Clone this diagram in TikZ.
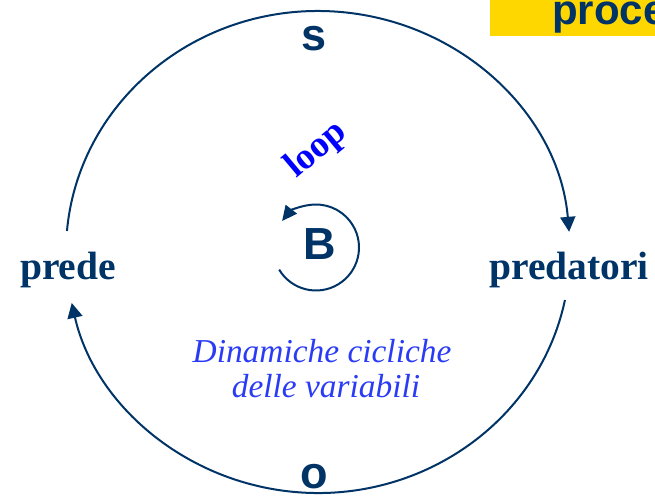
\documentclass[tikz,border=0pt]{standalone}
\usepackage{fontspec}
\setmainfont{Liberation Serif}
\newfontfamily\hv{Liberation Sans}
\usetikzlibrary{arrows.meta}
\definecolor{navy}{HTML}{003366}
\definecolor{gold}{HTML}{FFD700}
\definecolor{loopblue}{HTML}{0000FF}
\definecolor{dynblue}{HTML}{2A3BF5}
\begin{document}
\begin{tikzpicture}[x=1pt,y=1pt,
  conn/.style={draw=navy, line width=2pt, -{Triangle[length=15pt,width=15pt]}},
  lbl/.style={text=navy, font=\fontsize{39.5}{42}\selectfont\bfseries, inner sep=0pt, anchor=base},
  sym/.style={text=navy, font=\hv\fontsize{45}{48}\selectfont\bfseries, inner sep=0pt},
]
\useasboundingbox (0,0) rectangle (655,498);
\begin{scope}
\clip (0,0) rectangle (655,498);
\fill[gold] (490,498) rectangle (660,462);
\node[anchor=base west, text=navy, font=\hv\fontsize{42}{46}\selectfont\bfseries, inner sep=0pt] (title) at (552,473) {proce};
\end{scope}

\node[lbl] (prede) at (68,218) {prede};
\node[lbl] (predatori) at (569,218) {predatori};
\node[sym] (s) at (314,459) {s};
\node[sym] (o) at (314.5,21) {o};
\node[sym] (B) at (320,254) {B};
\node[rotate=40, text=loopblue, font=\fontsize{37}{40}\selectfont\bfseries, inner sep=0pt] (loop) at (317,348) {loop};
\node[anchor=base, text=dynblue, font=\fontsize{33.4}{36}\selectfont\itshape, inner sep=0pt] (dyn1) at (322,136) {Dinamiche cicliche};
\node[anchor=base, text=dynblue, font=\fontsize{33.4}{36}\selectfont\itshape, inner sep=0pt] (dyn2) at (326,101) {delle variabili};

\coordinate (E) at (318,246);
\path (E) ++(175:252 and 241) coordinate (ta);
\path (E) ++(-11.5:252 and 241) coordinate (ba);
\draw[conn] (ta) arc[start angle=175, end angle=4.8, x radius=252, y radius=241];
\draw[conn] (ba) arc[start angle=-11.5, end angle=-167.8, x radius=252, y radius=241];

\coordinate (C) at (316,250.5);
\path (C) ++(211:43) coordinate (la);
\draw[conn, -{Triangle[length=15pt,width=14pt]}] (la) arc[start angle=211, end angle=502, radius=43];
\end{tikzpicture}
\end{document}
